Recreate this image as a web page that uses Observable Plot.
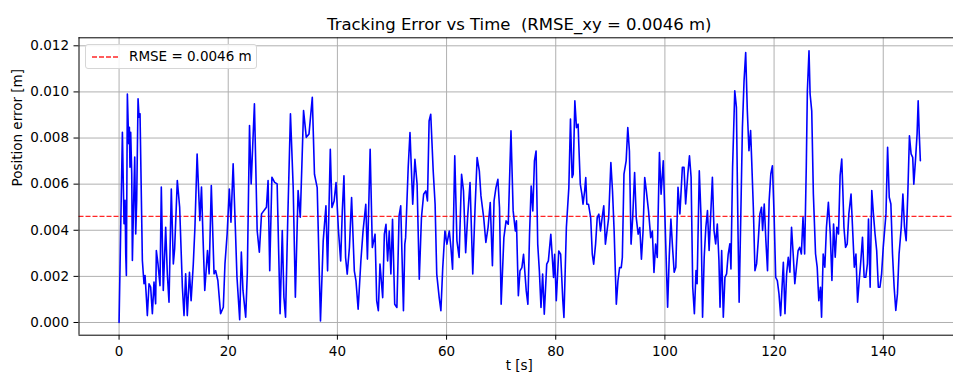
<!DOCTYPE html>
<html><head><meta charset="utf-8">
<script src="https://cdn.jsdelivr.net/npm/d3@7"></script>
<script src="https://cdn.jsdelivr.net/npm/@observablehq/plot@0.6"></script>
<style>
body{margin:0;background:#fff;font-family:"DejaVu Sans",sans-serif;}
#wrap{position:relative;width:953px;height:382px;overflow:hidden;}
#wrap svg text{white-space:pre;}
#legend{position:absolute;left:85px;top:44px;width:172px;height:25px;border:1px solid #d6d6d6;border-radius:3px;background:rgba(255,255,255,0.85);box-sizing:border-box;font-size:13.5px;color:#000;}
#legend svg{position:absolute;left:5px;top:10px;}
#legend span{position:absolute;left:43px;top:3px;white-space:pre;}
</style></head><body><div id="wrap"></div>
<script>
const title = "Tracking Error vs Time  (RMSE_xy = 0.0046 m)";
const xLabel = "t [s]";
const yLabel = "Position error [m]";
const legendLabel = "RMSE = 0.0046 m";
const rmse = 0.0046;
const xTicks = [0, 20, 40, 60, 80, 100, 120, 140];
const yTicks = [0, 0.002, 0.004, 0.006, 0.008, 0.010, 0.012];

const time = [
0,0.61,0.91,1.1,1.22,1.34,1.52,1.77,1.89,2.0,2.13,2.32,2.44,2.62,2.87,3.05,3.23,3.48,3.66,3.84,4.27,4.57,4.76,5.0,5.18,5.49,5.79,6.1,6.4,6.7,6.83,7.13,7.5,7.74,8.1,8.54,8.84,9.15,9.57,9.94,10.18,10.67,11.1,11.6,11.9,12.2,12.5,12.9,13.2,13.6,13.9,14.3,14.8,15.1,15.4,15.7,16.2,16.5,16.9,17.4,17.7,18.1,18.6,19.1,19.4,19.8,20.2,20.5,20.9,21.3,21.6,22.1,22.4,22.7,23.2,23.5,23.9,24.2,24.5,24.8,25.3,25.7,26.1,27.0,27.3,27.6,28.0,28.5,28.96,29.5,29.9,30.2,30.5,30.9,31.4,31.9,32.3,32.8,33.2,33.8,34.3,34.8,35.4,35.8,
36.3,36.9,37.4,37.9,38.2,38.7,39.0,39.4,39.75,40.2,40.6,40.9,41.2,41.5,41.8,42.2,42.6,43.1,43.4,43.8,44.3,44.7,45.2,45.5,46.0,46.4,46.9,47.2,47.5,47.8,48.3,48.6,48.9,49.2,49.5,49.8,50.1,50.5,50.9,51.3,51.6,52.1,
52.35,52.5,52.97,53.3,53.8,54.2,54.6,55.0,55.4,55.8,56.2,56.5,56.8,57.1,57.55,57.9,58.2,58.65,58.96,59.3,59.7,60.06,60.5,60.8,61.1,61.5,61.9,62.3,62.75,63.1,63.5,63.85,64.3,64.8,65.2,65.6,66.0,66.3,66.8,67.2,67.6,68.0,68.4,68.7,69.05,69.4,69.7,70.0,70.5,70.9,71.3,71.8,72.2,72.6,72.8,73.15,73.45,73.8,74.1,74.6,74.9,75.2,75.5,75.8,76.1,76.4,76.7,77.0,77.3,77.6,77.9,78.35,78.65,79.1,79.6,
79.8,80.1,80.55,80.9,81.3,81.5,81.95,82.4,82.7,83.0,83.2,83.5,83.8,84.1,84.2,84.5,84.8,85.0,85.3,85.5,85.7,86.0,86.4,86.7,86.95,87.3,87.6,87.9,88.2,88.5,88.8,89.1,89.4,89.7,90.1,90.4,90.7,91.1,91.4,91.7,92.0,92.2,92.5,92.9,93.2,93.5,93.8,94.1,94.45,94.75,95.1,95.4,95.7,96.0,96.3,96.6,97.0,97.4,97.7,98.0,98.3,98.6,99.0,99.3,99.7,
100.5,100.8,101.1,101.4,101.7,102.0,102.4,102.75,103.2,103.5,103.8,104.2,104.5,104.8,105.1,105.4,105.7,105.9,106.3,106.6,106.9,107.2,107.5,107.8,108.1,108.4,108.7,109.0,109.3,109.6,109.9,110.1,110.4,110.7,111.0,111.3,111.6,111.9,112.1,112.4,112.8,113.1,113.4,113.6,113.9,114.2,114.5,114.8,115.1,115.4,115.7,115.9,116.2,116.5,116.8,117.1,117.4,117.7,117.9,118.2,118.5,118.8,119.1,119.4,119.7,120.0,120.3,120.6,120.9,121.2,121.4,121.7,122.0,122.3,122.6,122.9,123.2,123.5,123.8,124.1,124.4,124.7,125.0,125.3,125.6,125.9,126.1,126.4,126.6,126.9,127.2,127.6,127.9,128.2,128.5,128.7,129.0,129.3,129.6,129.95,130.3,130.6,130.9,131.2,131.5,131.8,132.1,132.4,132.6,132.8,133.1,133.4,133.7,134.1,134.4,134.7,135.0,135.3,135.6,135.9,136.2,136.5,136.8,137.1,137.3,137.6,137.9,138.2,138.5,138.8,139.1,139.4,139.7,140.0,140.3,140.5,140.8,141.1,141.4,141.7,142.0,142.3,142.6,142.9,143.3,143.6,143.9,144.2,144.5,144.8,145.1,145.4,145.6,145.9,146.2,146.4,146.6,146.8
];
const error = [
0,0.00825,0.00428,0.0053,0.00298,0.00204,0.00991,0.00775,0.00847,0.00673,0.00825,0.00645,0.00269,0.00471,0.00717,0.00384,0.00529,0.0097,0.0089,0.00905,0.00269,0.00168,0.00204,0.0011,0.0003,0.00168,0.00153,0.00038,0.00175,0.00081,0.00312,0.00254,0.0016,0.00587,0.00139,0.00413,0.00211,0.00088,0.00579,0.00254,0.00319,0.00616,0.005,0.00153,0.0003,0.00211,0.0003,0.00218,0.00095,0.00254,0.00413,0.00731,0.00442,0.00587,0.00355,0.00139,0.00312,0.00211,0.00594,0.00211,0.00225,0.00182,0.00038,0.00066,0.00254,0.00384,0.00579,0.00435,0.00688,0.00413,0.00197,0.00012,0.00305,0.00139,0.00023,0.00218,0.00854,0.00601,0.00775,0.00948,0.00399,0.00305,0.00471,0.005,0.00616,0.00225,0.0063,0.00608,0.00601,0.00038,0.00399,0.0011,0.00023,0.00442,0.00905,0.00587,0.0011,0.00572,0.00457,0.00919,0.00803,0.00818,0.00977,0.00643,
0.00585,0.00007,0.00354,0.00506,0.00224,0.00751,0.00499,0.00527,0.00607,0.00397,0.00267,0.00484,0.00636,0.00282,0.0021,0.00325,0.00542,0.00224,0.00181,0.00058,0.00267,0.00397,0.00513,0.00275,0.00751,0.00325,0.00383,0.00094,0.00051,0.00253,0.00108,0.00383,0.00426,0.00267,0.00397,0.0021,0.00448,0.00079,0.00065,0.00462,0.00506,0.00051,
0.0034,0.00368,0.00672,0.00824,0.00513,0.00708,0.006,0.00188,0.00455,0.00556,0.00571,0.00527,0.00874,0.00903,0.00658,0.00513,0.0021,0.00108,0.00051,0.00238,0.00397,0.0034,0.00397,0.00325,0.00231,0.00723,0.00354,0.00282,0.00643,0.00571,0.00303,0.00455,0.00607,0.0021,0.00484,0.00715,0.00658,0.00549,0.00455,0.00347,0.00412,0.0052,0.00246,0.00527,0.00585,0.00621,0.00499,0.00079,0.00368,0.00441,0.00426,0.00831,0.00484,0.00397,0.00441,0.00116,0.00224,0.00238,0.00296,0.00137,0.00079,0.00383,0.00592,0.00484,0.00701,0.00744,0.0034,0.00224,0.00065,0.0021,0.00036,0.00253,0.00267,0.00383,0.00195,
0.00296,0.00094,0.0031,0.00296,0.00094,0.00022,0.00412,0.00585,0.00882,0.00629,0.00643,0.00961,0.00845,0.0086,0.00788,0.006,0.00556,0.00513,0.00571,0.00629,0.00513,0.00513,0.00455,0.00296,0.00253,0.0034,0.00455,0.0047,0.00397,0.00455,0.00506,0.0034,0.00397,0.00455,0.00694,0.00571,0.00397,0.00079,0.00181,0.00238,0.00238,0.00282,0.00643,0.00701,0.00845,0.00744,0.0034,0.00455,0.0065,0.00455,0.00383,0.00412,0.00275,0.00397,0.00629,0.00571,0.00484,0.00368,0.00397,0.00217,0.0034,0.00282,0.00737,0.00556,0.00701,
0.00066,0.0029,0.00449,0.00326,0.00218,0.0024,0.00586,0.00471,0.00673,0.00673,0.00514,0.00644,0.00723,0.0063,0.00153,0.00038,0.00225,0.00168,0.00658,0.00471,0.00023,0.00283,0.00413,0.00485,0.00312,0.00471,0.0063,0.00399,0.00341,0.00427,0.00269,0.00066,0.00312,0.00023,0.00196,0.00211,0.00297,0.00341,0.00232,0.00673,0.01005,0.00933,0.00384,0.00088,0.00456,0.00846,0.01048,0.01171,0.00918,0.00745,0.00832,0.00702,0.005,0.00225,0.00254,0.00355,0.00471,0.005,0.00399,0.00514,0.00355,0.00225,0.00529,0.00644,0.0068,0.00471,0.00196,0.00182,0.00124,0.0003,0.00124,0.00261,0.00038,0.00211,0.00283,0.00218,0.00413,0.00297,0.00168,0.0024,0.00312,0.00326,0.00297,0.00456,0.00297,0.00673,0.01005,0.01178,0.00991,0.00918,0.00557,0.00297,0.0024,0.00095,0.00153,0.00023,0.00297,0.0024,0.00413,0.00521,0.00384,0.00182,0.00427,0.00283,0.00413,0.00384,0.00637,0.00709,0.00572,0.00413,0.00326,0.00341,0.00471,0.00557,0.00399,0.0024,0.00297,0.00088,0.00182,0.00269,0.0037,0.00196,0.00196,0.00254,0.00449,0.00153,0.00572,0.00471,0.00384,0.00312,0.00153,0.00153,0.00211,0.00326,0.00413,0.00471,0.0076,0.00543,0.00514,0.00297,0.00153,0.00052,0.00124,0.00297,0.00413,0.00557,0.00413,0.00355,0.00557,0.0081,0.00731,0.00716,0.006,0.00702,0.00817,0.00962,0.00817,0.00702
];

const data = time.map((t, i) => ({t, e: error[i]}));
const xDomain = [-7.34, 154.1];
const yDomain = [-0.000551, 0.012347];

const chart = Plot.plot({
  width: 953, height: 382,
  marginLeft: 78.5, marginRight: 0, marginTop: 37.3, marginBottom: 47.3,
  style: {fontFamily: '"DejaVu Sans", sans-serif', fontSize: "13.5px", background: "white", color: "#000", overflow: "visible"},
  x: {domain: xDomain, range: [78.5, 959.7], ticks: xTicks, tickSize: 5, tickPadding: 6, tickFormat: d => String(d), label: null},
  y: {domain: yDomain, ticks: yTicks, tickSize: 5, tickPadding: 5, tickFormat: d3.format(".3f"), label: null},
  marks: [
    Plot.ruleX(xTicks, {stroke: "#b0b0b0", strokeWidth: 1}),
    Plot.ruleY(yTicks, {stroke: "#b0b0b0", strokeWidth: 1}),
    Plot.ruleY([rmse], {stroke: "red", strokeOpacity: 0.85, strokeWidth: 1.3, strokeDasharray: "5,2"}),
    Plot.line(data, {x: "t", y: "e", stroke: "blue", strokeWidth: 1.6}),
    Plot.ruleX([xDomain[0]], {stroke: "#000", strokeWidth: 1}),
    Plot.ruleY(yDomain, {stroke: "#000", strokeWidth: 1}),
    Plot.text([title], {frameAnchor: "top", dx: 3, dy: -7.5, lineAnchor: "bottom", fontSize: 16.5}),
    Plot.text([yLabel], {frameAnchor: "left", rotate: -90, dx: -61.5, fontSize: 13.5}),
    Plot.text([xLabel], {frameAnchor: "bottom", dx: 3, dy: 35, fontSize: 13.5})
  ]
});
const wrap = document.getElementById("wrap");
wrap.appendChild(chart);
const legend = document.createElement("div");
legend.id = "legend";
legend.innerHTML = '<svg width="30" height="4"><line x1="1" y1="2" x2="28" y2="2" stroke="red" stroke-opacity="0.85" stroke-width="1.3" stroke-dasharray="5,2"/></svg><span></span>';
legend.querySelector("span").textContent = legendLabel;
wrap.appendChild(legend);
</script>
</body></html>
